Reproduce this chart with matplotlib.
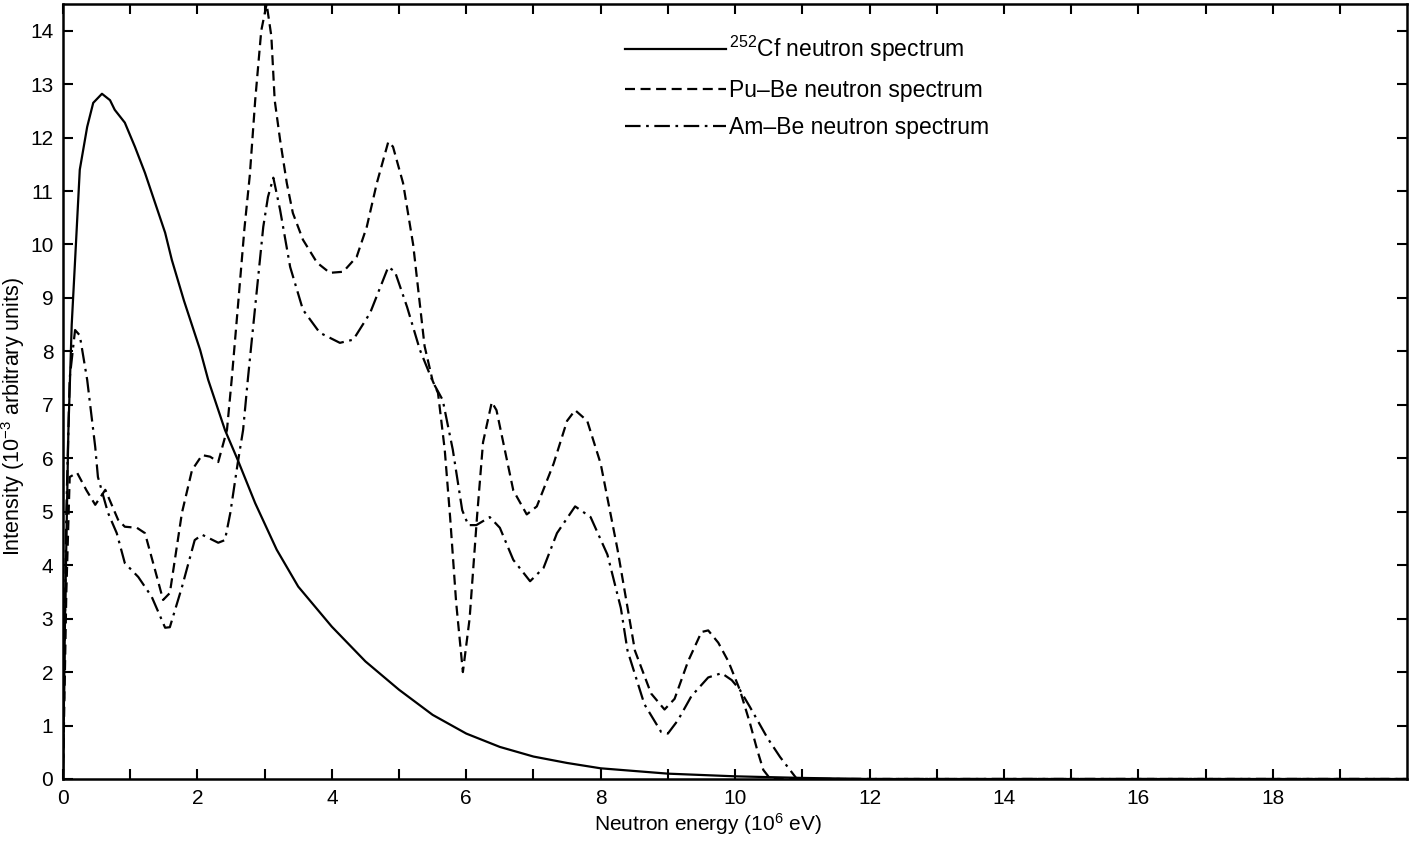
import matplotlib.pyplot as plt
import numpy as np

plt.rcParams['font.family'] = ['Liberation Sans', 'DejaVu Sans']
plt.rcParams['mathtext.fontset'] = 'custom'
plt.rcParams['mathtext.rm'] = 'Liberation Sans'
plt.rcParams['mathtext.it'] = 'Liberation Sans'

# 252Cf spectrum
cf_e = [0, 0.03, 0.08, 0.13, 0.18, 0.25, 0.36, 0.45, 0.58, 0.7, 0.77, 0.92,
        1.07, 1.22, 1.37, 1.52, 1.62, 1.8, 2.04, 2.16, 2.41, 2.6, 2.86, 3.18,
        3.5, 4.0, 4.5, 5.0, 5.5, 6.0, 6.5, 7.0, 7.5, 8.0, 9.0, 10.0, 11.0, 12.0, 20.0]
cf_i = [0, 3.0, 6.5, 8.5, 9.7, 11.4, 12.2, 12.65, 12.82, 12.7, 12.52, 12.28,
        11.83, 11.34, 10.78, 10.22, 9.71, 8.95, 8.03, 7.47, 6.53, 5.97, 5.16, 4.29,
        3.6, 2.85, 2.2, 1.67, 1.2, 0.85, 0.6, 0.42, 0.3, 0.2, 0.1, 0.05, 0.02, 0.0, 0.0]

# Pu-Be spectrum
pube_e = [0, 0.05, 0.1, 0.21, 0.35, 0.48, 0.63, 0.82, 0.92, 1.1, 1.22, 1.37,
          1.49, 1.59, 1.77, 1.92, 2.07, 2.19, 2.31, 2.44, 2.51, 2.6, 2.7, 2.78,
          2.86, 2.95, 3.03, 3.1, 3.15, 3.23, 3.33, 3.42, 3.57, 3.78, 3.97, 4.17,
          4.37, 4.52, 4.67, 4.84, 4.91, 5.06, 5.21, 5.38, 5.5, 5.58, 5.68, 5.76,
          5.85, 5.95, 6.05, 6.16, 6.25, 6.38, 6.45, 6.55, 6.7, 6.9, 7.05, 7.3,
          7.5, 7.62, 7.8, 8.0, 8.25, 8.51, 8.75, 8.95, 9.1, 9.3, 9.5, 9.6,
          9.75, 9.9, 10.07, 10.22, 10.33, 10.42, 10.5, 10.6, 20.0]
pube_i = [0, 3.5, 5.65, 5.73, 5.4, 5.13, 5.41, 4.85, 4.72, 4.7, 4.6, 3.91,
          3.35, 3.48, 4.98, 5.78, 6.06, 6.03, 5.93, 6.53, 7.47, 8.8, 10.3, 11.3,
          12.7, 14.0, 14.5, 13.9, 12.7, 11.96, 11.15, 10.59, 10.09, 9.66, 9.47, 9.49,
          9.77, 10.33, 11.15, 11.92, 11.83, 11.15, 10.0, 8.1, 7.45, 7.22, 6.16, 4.9,
          3.3, 2.0, 3.0, 4.9, 6.3, 7.05, 6.9, 6.3, 5.4, 4.95, 5.1, 5.9,
          6.7, 6.9, 6.7, 5.9, 4.3, 2.4, 1.6, 1.3, 1.5, 2.2, 2.75, 2.78,
          2.55, 2.2, 1.67, 1.05, 0.54, 0.17, 0.04, 0.0, 0.0]

# Am-Be spectrum
ambe_e = [0, 0.05, 0.1, 0.18, 0.25, 0.36, 0.48, 0.52, 0.67, 0.8, 0.92, 1.12,
          1.32, 1.52, 1.59, 1.77, 1.96, 2.07, 2.31, 2.41, 2.49, 2.6, 2.68, 2.75,
          2.81, 2.98, 3.05, 3.13, 3.23, 3.38, 3.57, 3.82, 4.12, 4.32, 4.57, 4.84,
          4.94, 5.12, 5.31, 5.51, 5.65, 5.8, 5.94, 6.03, 6.15, 6.35, 6.5, 6.7,
          6.95, 7.15, 7.35, 7.62, 7.85, 8.1, 8.3, 8.4, 8.65, 8.9, 9.0, 9.15,
          9.35, 9.6, 9.8, 9.95, 10.07, 10.22, 10.48, 10.67, 10.92, 20.0]
ambe_i = [0, 5.0, 7.5, 8.4, 8.3, 7.47, 6.21, 5.65, 4.98, 4.6, 4.04, 3.78,
          3.41, 2.83, 2.84, 3.59, 4.47, 4.57, 4.42, 4.47, 4.98, 5.91, 6.53, 7.47,
          8.22, 10.33, 10.89, 11.25, 10.65, 9.58, 8.78, 8.35, 8.16, 8.22, 8.72, 9.58,
          9.49, 8.83, 8.03, 7.41, 7.09, 6.16, 5.03, 4.75, 4.75, 4.9, 4.7, 4.1,
          3.7, 3.95, 4.6, 5.1, 4.9, 4.2, 3.2, 2.4, 1.4, 0.88, 0.85, 1.1,
          1.55, 1.9, 1.98, 1.85, 1.67, 1.35, 0.77, 0.41, 0.0, 0.0]

labels = [r'$^{252}$Cf neutron spectrum', 'Pu–Be neutron spectrum', 'Am–Be neutron spectrum']
xticks = list(range(0, 20))
xticklabels = [str(t) if t % 2 == 0 else '' for t in xticks]
yticks = list(range(0, 15))

fig = plt.figure(figsize=(14.12, 8.46), dpi=100)
ax = fig.add_axes([0.0446, 0.0792, 0.952, 0.9161])

ax.plot(cf_e, cf_i, color='black', lw=1.6, label=labels[0])
ax.plot(pube_e, pube_i, color='black', lw=1.6, dashes=(4.5, 2.5), label=labels[1])
ax.plot(ambe_e, ambe_i, color='black', lw=1.6, dashes=(7, 2.5, 1.2, 2.5), label=labels[2])

ax.set_xlim(0, 20)
ax.set_ylim(0, 14.5)
ax.set_xticks(xticks)
ax.set_xticklabels(xticklabels)
ax.set_yticks(yticks)
ax.tick_params(direction='in', length=7, width=1.5, top=True, right=True,
               labelsize=15, pad=7)
for s in ax.spines.values():
    s.set_linewidth(1.8)

ax.set_xlabel('Neutron energy (10$^{6}$ eV)', fontsize=15)
ax.xaxis.set_label_coords(0.48, -0.042)
ax.set_ylabel('Intensity (10$^{-3}$ arbitrary units)', fontsize=15.5)
ax.yaxis.set_label_coords(-0.027, 0.468)

ax.legend(loc='upper left', bbox_to_anchor=(0.418, 0.962), frameon=False,
          fontsize=16.5, handlelength=4.4, handletextpad=0.15, labelspacing=0.65,
          borderpad=0, borderaxespad=0)

plt.savefig('out.png', dpi=100)
